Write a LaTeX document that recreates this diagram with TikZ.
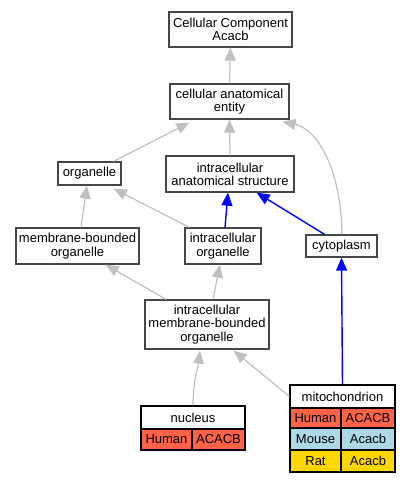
\documentclass[tikz,border=0pt]{standalone}
\usepackage{fontspec}
\setmainfont{Liberation Sans}
\usetikzlibrary{arrows.meta,calc}
\definecolor{edgegray}{RGB}{192,192,192}
\definecolor{boxgray}{RGB}{70,70,70}
\definecolor{human}{RGB}{255,99,71}
\definecolor{mouse}{RGB}{173,216,230}
\definecolor{rat}{RGB}{255,215,0}
\tikzset{
  box/.style={draw=boxgray, line width=1.3pt, fill=white, align=center, inner sep=0pt,
    font=\fontsize{13}{13.3}\selectfont},
  cell/.style={draw=black, line width=1.1pt, inner sep=0pt, align=center,
    font=\fontsize{13}{13.3}\selectfont},
  isa/.style={draw=edgegray, line width=1.2pt, -{Triangle[length=13pt,width=11pt]}},
  partof/.style={draw=blue, line width=1.4pt, -{Triangle[length=13pt,width=11pt]}}
}
\begin{document}
\begin{tikzpicture}[x=1pt,y=-1pt]
\useasboundingbox (0,0) rectangle (411,483);
% nodes
\node[box, minimum width=123pt, minimum height=35pt] (cc) at (230.5,29.5) {Cellular Component\\Acacb};
\node[box, minimum width=119pt, minimum height=35pt] (cae) at (229.5,101.5) {cellular anatomical\\entity};
\node[box, minimum width=63pt, minimum height=23pt] (org) at (89.5,173.5) {organelle};
\node[box, minimum width=128pt, minimum height=36pt] (ias) at (230,174) {intracellular\\anatomical structure};
\node[box, minimum width=123pt, minimum height=36pt] (mbo) at (77.5,246) {membrane-bounded\\organelle};
\node[box, minimum width=76pt, minimum height=36pt] (io) at (223,246) {intracellular\\organelle};
\node[box, minimum width=71pt, minimum height=22pt] (cyto) at (341.5,246) {cytoplasm};
\node[box, minimum width=124pt, minimum height=49pt] (imbo) at (207,324.5) {intracellular\\membrane-bounded\\organelle};
% nucleus table
\node[cell, fill=white, minimum width=104pt, minimum height=23pt] (nuch) at (193,417.5) {nucleus};
\node[cell, fill=human, minimum width=51pt, minimum height=21pt] (nuc1) at (166.5,439.5) {Human};
\node[cell, fill=human, minimum width=53pt, minimum height=21pt] (nuc2) at (218.5,439.5) {ACACB};
% mitochondrion table
\node[cell, fill=white, minimum width=105pt, minimum height=23pt] (mitoh) at (342.5,396.5) {mitochondrion};
\node[cell, fill=human, minimum width=51pt, minimum height=20pt] (m11) at (315.5,418) {Human};
\node[cell, fill=human, minimum width=54pt, minimum height=20pt] (m12) at (368,418) {ACACB};
\node[cell, fill=mouse, minimum width=51pt, minimum height=22pt] (m21) at (315.5,439) {Mouse};
\node[cell, fill=mouse, minimum width=54pt, minimum height=22pt] (m22) at (368,439) {Acacb};
\node[cell, fill=rat, minimum width=51pt, minimum height=22pt] (m31) at (315.5,461) {Rat};
\node[cell, fill=rat, minimum width=54pt, minimum height=22pt] (m32) at (368,461) {Acacb};
% edges
\draw[isa] (cae.north) -- (cc.south);
\draw[isa] ($(org.north east)+(-8,0)$) -- ($(cae.south west)+(20,3)$);
\draw[isa] (ias.north) -- (cae.south);
\draw[isa] ($(cyto.north)+(0.5,0)$) .. controls ($(cyto.north)+(0,-60)$) and ($(cae.south east)+(30,10)$) .. ($(cae.south east)+(-7,2)$);
\draw[isa] ($(mbo.north)+(3.5,0)$) -- ($(org.south)+(-2.5,0)$);
\draw[isa] ($(io.north west)+(5,0)$) -- ($(org.south east)+(-8,3)$);
\draw[partof] ($(io.north)+(2,0)$) -- ($(ias.south)+(-2,0)$);
\draw[partof] ($(cyto.north)+(-17,0)$) -- ($(ias.south east)+(-38,0)$);
\draw[isa] ($(imbo.north)+(-41,0)$) -- ($(mbo.south east)+(-34,0)$);
\draw[isa] ($(imbo.north)+(6,0)$) -- ($(io.south)+(-3,0)$);
\draw[isa] (nuch.north) .. controls ($(nuch.north)+(0,-25)$) and ($(imbo.south)+(-9,18)$) .. ($(imbo.south)+(-7,1)$);
\draw[isa] (mitoh.west) -- ($(imbo.south east)+(-36,1)$);
\draw[partof] (mitoh.north) -- (cyto.south);
\end{tikzpicture}
\end{document}
